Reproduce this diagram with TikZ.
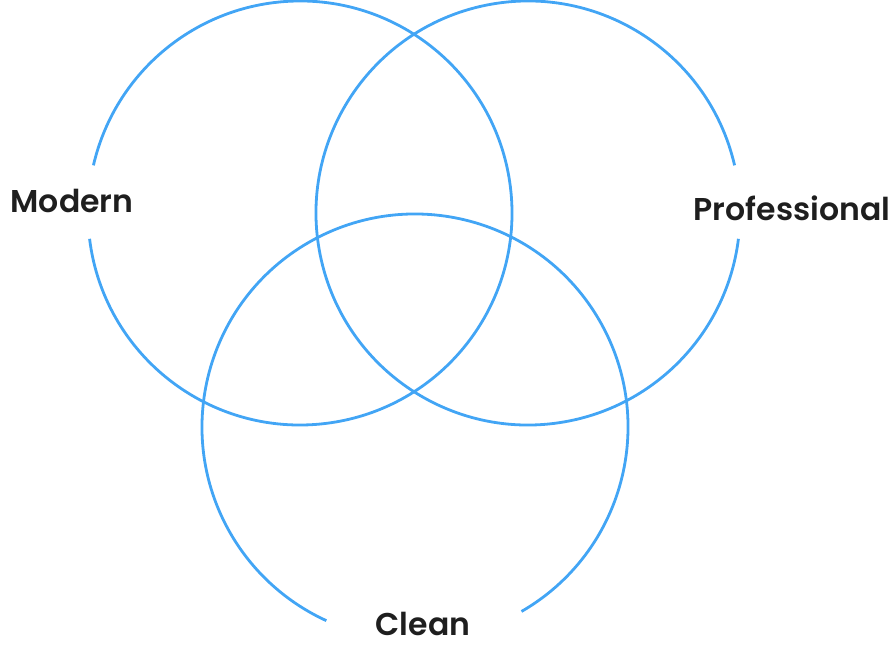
\documentclass[tikz,border=0pt]{standalone}
\usepackage{fontspec}
\newfontfamily\labelfont{Poppins SemiBold}
\usepackage{tikz}
\usepackage{xcolor}
\definecolor{VennBlue}{HTML}{42A5F5}
\definecolor{VennText}{HTML}{1E1E1E}

\begin{document}
\begin{tikzpicture}[x=1pt,y=1pt,
    ring/.style={VennBlue,line width=2.8pt},
    tag/.style={anchor=base,text=VennText,font=\labelfont\fontsize{31.5}{36}\selectfont,inner sep=0pt}]
  \useasboundingbox (0,0) rectangle (891,654);
  \coordinate (M) at (300,441);
  \coordinate (P) at (528,441);
  \coordinate (C) at (415,227);
  \node[tag] (modern) at (72,441) {Modern};
  \node[tag] (prof) at (792,433) {Professional};
  \node[tag] (clean) at (423,19) {Clean};
  \draw[ring] (M) ++(187:212) arc[start angle=187,end angle=527,radius=212];
  \draw[ring] (P) ++(13:212) arc[start angle=13,end angle=353,radius=212];
  \draw[ring] (C) ++(-60:213) arc[start angle=-60,end angle=245.4,radius=213];
\end{tikzpicture}
\end{document}
